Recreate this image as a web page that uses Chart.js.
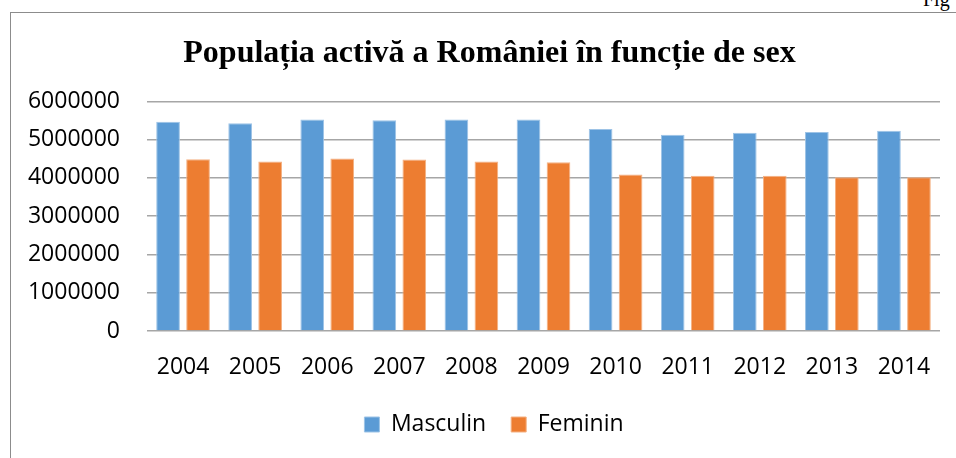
<!DOCTYPE html>
<html>
<head>
<meta charset="utf-8">
<script src="https://cdn.jsdelivr.net/npm/chart.js@4/dist/chart.umd.min.js"></script>
<style>
  body { margin: 0; background: #fff; overflow: hidden; }
  #cadru { position: absolute; left: 10px; top: 12px; width: 1000px; height: 500px;
           border-left: 1px solid #8c8c8c; border-top: 1px solid #8c8c8c; }
  #fig { position: absolute; left: 923px; top: -12px; font: 20px "Liberation Serif", serif; color: #000; }
  canvas { position: absolute; left: 0; top: 0; }
</style>
</head>
<body>
<div id="cadru"></div>
<span id="fig">Fig</span>
<canvas id="grafic" width="956" height="458"></canvas>
<script>
// anii si valorile
var ani = ["2004","2005","2006","2007","2008","2009","2010","2011","2012","2013","2014"];
var masculin = [5470000, 5430000, 5530000, 5510000, 5530000, 5530000, 5280000, 5130000, 5180000, 5200000, 5230000];
var feminin = [4490000, 4430000, 4510000, 4480000, 4430000, 4410000, 4090000, 4060000, 4060000, 4020000, 4020000];
var pasY = 1000000;
var maxY = 6000000;

var fontText = "'Open Sans', 'Noto Sans', sans-serif";

// titlul si legenda sunt centrate putin mai la dreapta in original
var mutaTitlu = {
	id: "mutaTitlu",
	afterLayout: function (chart) {
		chart.titleBlock.left += 19.5;
		chart.titleBlock.right += 19.5;
		chart.legend.left += 24;
		chart.legend.right += 24;
	}
};

var grafic = new Chart(document.getElementById("grafic"), {
	type: "bar",
	data: {
		labels: ani,
		datasets: [{
			label: "Masculin",
			data: masculin,
			backgroundColor: "#5B9BD5",
			borderColor: "#9DC3E6",
			borderWidth: 1,
			categoryPercentage: 0.832,
			barPercentage: 0.79
		},
		{
			label: "Feminin",
			data: feminin,
			backgroundColor: "#ED7D31",
			borderColor: "#F4B183",
			borderWidth: 1,
			categoryPercentage: 0.832,
			barPercentage: 0.79
		}]
	},
	plugins: [mutaTitlu],
	options: {
		responsive: false,
		animation: false,
		layout: { padding: { left: 0, right: 16, top: 12, bottom: 12 } },
		plugins: {
			title: {
				display: true,
				text: "Populația activă a României în funcție de sex",
				color: "#000",
				font: { family: "'Liberation Serif', 'Times New Roman', serif", size: 32, weight: "bold" },
				padding: { top: 23, bottom: 28 }
			},
			legend: {
				position: "bottom",
				labels: {
					color: "#000",
					font: { family: fontText, size: 23 },
					boxWidth: 15,
					boxHeight: 15,
					padding: 25
				}
			},
			tooltip: { enabled: false }
		},
		scales: {
			x: {
				afterFit: function (s) { s.height = 57; },
				grid: { display: false },
				border: { display: false },
				ticks: { color: "#000", font: { family: fontText, size: 23 }, padding: 15 }
			},
			y: {
				min: 0,
				max: maxY,
				afterFit: function (s) { s.width = 147; },
				grid: { color: "#a6a6a6", lineWidth: 1.5, drawTicks: false },
				border: { display: false },
				ticks: {
					stepSize: pasY,
					color: "#000",
					font: { family: fontText, size: 23 },
					padding: 27,
					callback: function (v) { return String(v); }
				}
			}
		}
	}
});
</script>
</body>
</html>
